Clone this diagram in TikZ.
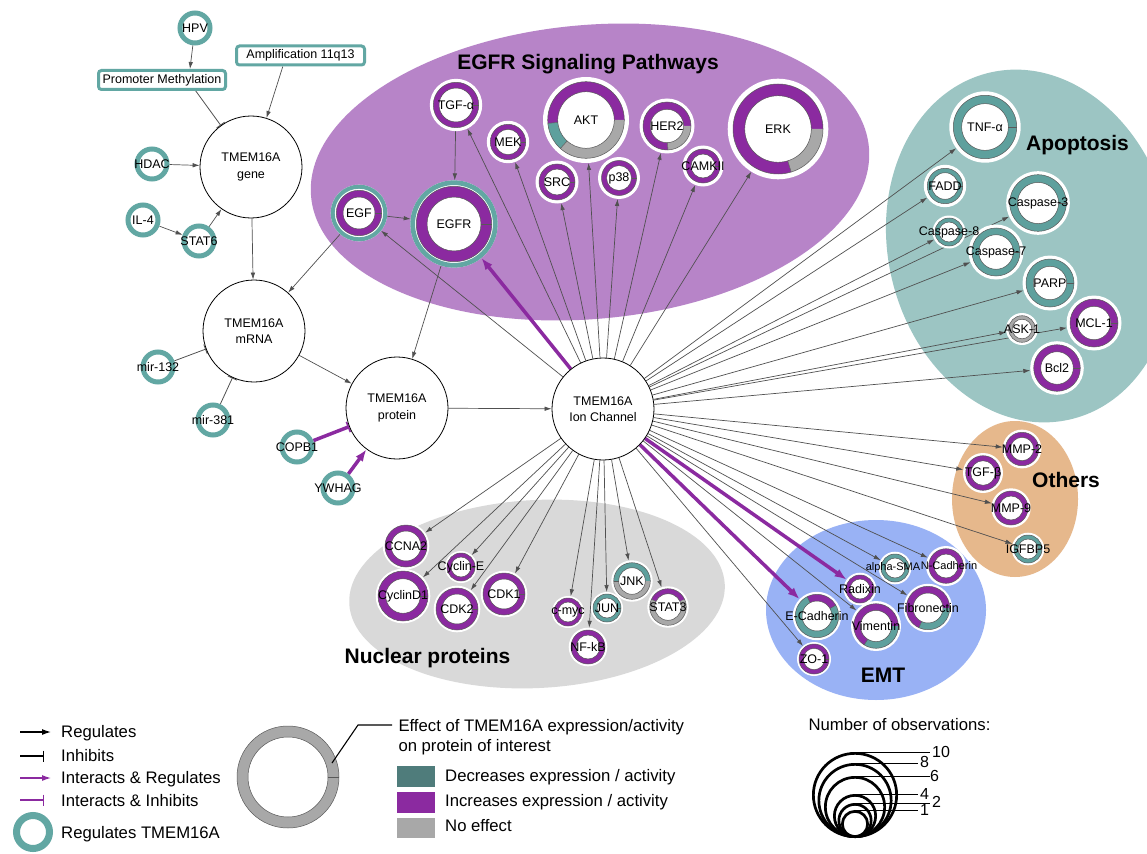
\documentclass[tikz,border=0pt]{standalone}
\usepackage{fontspec}
\setmainfont{Liberation Sans}
\usetikzlibrary{arrows.meta,calc}
\definecolor{rpurple}{HTML}{8B2AA0}
\definecolor{rteal}{HTML}{5EA09D}
\definecolor{rgray}{HTML}{A8A8A8}
\definecolor{regteal}{HTML}{62A7A3}
\definecolor{legteal}{HTML}{4F7C7B}
\definecolor{egfrbg}{HTML}{B784C8}
\definecolor{apobg}{HTML}{9CC5C3}
\definecolor{othbg}{HTML}{E6B88C}
\definecolor{emtbg}{HTML}{99B2F5}
\definecolor{nucbg}{HTML}{D9D9D9}
\definecolor{edgec}{HTML}{505050}
\pgfdeclarelayer{bg}
\pgfdeclarelayer{edges}
\pgfdeclarelayer{labels}
\pgfsetlayers{bg,edges,main,labels}
\tikzset{
  ringline/.style={draw=black!65, line width=0.5},
  plabel/.style={font=\fontsize{12.5}{14}\selectfont, inner sep=0},
  reg/.style={draw=edgec, line width=0.7, -{Latex[length=7pt,width=4.5pt]}},
  inh/.style={draw=edgec, line width=0.8, -{Bar[width=10pt]}},
  preg/.style={draw=rpurple, line width=3.5, -{Latex[length=12pt,width=9pt]}},
  pinh/.style={draw=rpurple, line width=3.5, -{Bar[width=11pt,line width=1.6pt]}},
  tcirc/.style={circle, draw=black, line width=0.8, fill=white, minimum size=102, inner sep=0, align=center, font=\fontsize{12.5}{16.5}\selectfont},
  regnode/.style={circle, draw=regteal, line width=5, fill=white, minimum size=30, inner sep=0},
  regbox/.style={draw=regteal, line width=3, rounded corners=3, fill=white, inner sep=0, minimum height=19, font=\fontsize{12.5}{14}\selectfont},
  grouptitle/.style={font=\fontsize{21}{24}\selectfont\bfseries, anchor=base, inner sep=0},
  legtext/.style={font=\fontsize{16.7}{19}\selectfont, anchor=base west, inner sep=0},
  numtext/.style={font=\fontsize{16}{18}\selectfont, anchor=base west, inner sep=0},
}
% protein node: [halo] name x y R w label segments
\newcommand{\prot}[8][3.5]{%
  \node[circle, fill=white, inner sep=0, outer sep=0, minimum size={2*(#5+#1)}] (#2) at (#3,#4) {};
  \pgfmathsetmacro\myri{#5-#6}%
  \begin{scope}[shift={(#3,#4)}, yscale=-1]
    \foreach \segc/\sega/\segb in {#8} {
      \fill[\segc] (\sega:#5) arc[start angle=\sega, end angle=\segb, radius=#5] -- (\segb:\myri) arc[start angle=\segb, end angle=\sega, radius=\myri] -- cycle;
      \draw[ringline] (\sega:\myri) -- (\sega:#5);
    }
    \draw[ringline] (0,0) circle[radius=#5];
    \draw[ringline] (0,0) circle[radius=\myri];
  \end{scope}
  \begin{pgfonlayer}{labels}
    \node[plabel] (#2-l) at (#3,#4) {#7};
  \end{pgfonlayer}
}
\newcommand{\tealring}[4]{\draw[regteal, line width=#4] (#1,#2) circle[radius=#3];}
\newcommand{\rnode}[4]{%
  \node[regnode] (#1) at (#2,#3) {};
  \begin{pgfonlayer}{labels}
    \node[plabel] (#1-l) at (#2,#3) {#4};
  \end{pgfonlayer}
}
\begin{document}
\begin{tikzpicture}[x=1pt,y=-1pt]
\useasboundingbox (0,0) rectangle (1147,853);
\begin{pgfonlayer}{bg}
  \fill[white] (0,0) rectangle (1147,853);
  \fill[egfrbg, shift={(590,172)}, rotate=5] (0,0) ellipse[x radius=280, y radius=147];
  \fill[apobg, shift={(1030,246)}, rotate=13] (0,0) ellipse[x radius=142, y radius=178];
  \fill[othbg, shift={(1015,499)}] (0,0) ellipse[x radius=63, y radius=78];
  \fill[emtbg, shift={(876,610)}] (0,0) ellipse[x radius=110, y radius=90];
  \fill[nucbg, shift={(537,594)}, rotate=3] (0,0) ellipse[x radius=188, y radius=94];
\end{pgfonlayer}

% group titles
\node[grouptitle] (t-egfr) at (588,69.5) {EGFR Signaling Pathways};
\node[grouptitle] (t-apo) at (1077.5,151) {Apoptosis};
\node[grouptitle] (t-oth) at (1066,487.7) {Others};
\node[grouptitle] (t-emt) at (883,682.7) {EMT};
\node[grouptitle] (t-nuc) at (427.5,663.3) {Nuclear proteins};

% left side
\rnode{hpv}{195}{28}{HPV}
\node[regbox, minimum width=127] (prom) at (162,80) {Promoter Methylation};
\node[regbox, minimum width=128] (amp) at (300.5,55.5) {Amplification 11q13};
\node[tcirc] (gene) at (251,167) {TMEM16A\\gene};
\rnode{hdac}{152}{164}{HDAC}
\rnode{il4}{143}{220}{IL-4}
\rnode{stat6}{199}{241}{STAT6}
\node[tcirc] (mrna) at (254,331) {TMEM16A\\mRNA};
\rnode{mir132}{158}{367}{mir-132}
\rnode{mir381}{213}{420}{mir-381}
\node[tcirc] (prot) at (397,408) {TMEM16A\\protein};
\rnode{copb1}{297}{447}{COPB1}
\rnode{ywhag}{338}{488}{YWHAG}
\node[tcirc] (ion) at (603,409) {TMEM16A\\Ion Channel};

% EGFR pathway
\prot{tgfa}{456}{105}{22.7}{5.7}{TGF-α}{rpurple/0/360}
\prot{mek}{508}{142}{17.7}{5}{MEK}{rpurple/0/360}
\prot[4.7]{akt}{586}{120}{38.3}{10}{AKT}{rpurple/0/185,rteal/185/228,rgray/228/360}
\prot{her2}{667}{126}{24}{7.3}{HER2}{rpurple/0/272,rgray/272/360}
\prot{src}{557}{182}{18}{5}{SRC}{rpurple/0/360}
\prot{p38}{619}{178}{17.5}{5}{p38}{rpurple/0/360}
\prot{camk}{703}{166}{17}{5}{CAMKII}{rpurple/0/360}
\prot[5.3]{erk}{778}{129}{45}{11.7}{ERK}{rpurple/0/287,rgray/287/360}
\prot[5.6]{egf}{359}{213}{22.7}{6.7}{EGF}{rpurple/0/360}
\tealring{359}{213}{26.3}{4}
\prot[5.9]{egfr}{454}{224}{37.7}{10.7}{EGFR}{rpurple/0/360}
\tealring{454}{224}{41.3}{4.7}

% Apoptosis
\prot[4]{tnfa}{985}{127}{31.7}{8.3}{TNF-α}{rteal/0/360}
\prot{fadd}{945}{186}{17.7}{4.4}{FADD}{rteal/0/360}
\prot[2.5]{casp8}{949}{232}{14}{4}{Caspase-8}{rteal/0/360}
\prot{casp3}{1038}{203}{28.3}{7.7}{Caspase-3}{rteal/0/360}
\prot{casp7}{996}{252}{24}{6.7}{Caspase-7}{rteal/0/360}
\prot{parp}{1050}{283}{24}{7.3}{PARP}{rteal/0/360}
\prot[2.7]{ask1}{1022}{329}{13.3}{3.5}{ASK-1}{rgray/0/360}
\prot{mcl1}{1094}{323}{24}{7.3}{MCL-1}{rpurple/0/360}
\prot{bcl2}{1057}{368}{23.3}{7}{Bcl2}{rpurple/0/360}

% Others
\prot[2.7]{mmp2}{1022}{449}{16.7}{5}{MMP-2}{rpurple/0/360}
\prot[2.7]{tgfb}{983}{473}{17.3}{5}{TGF-β}{rpurple/0/360}
\prot[2.7]{mmp9}{1011}{508}{17}{5}{MMP-9}{rpurple/0/360}
\prot[2.3]{igfbp5}{1028}{549}{14}{4}{IGFBP5}{rteal/0/360}

% EMT
\prot[2.3]{asma}{895}{568}{14}{4}{}{rteal/0/360}
\prot[2.7]{ncad}{946}{566}{17.3}{5.3}{}{rpurple/0/360}
\begin{pgfonlayer}{labels}
  \node[plabel, font=\fontsize{11}{13}\selectfont] (asma-t) at (893,568) {alpha-SMA};
  \node[plabel, font=\fontsize{11}{13}\selectfont] (ncad-t) at (949,566) {N-Cadherin};
\end{pgfonlayer}
\prot[2.3]{radixin}{860}{589}{14}{4}{Radixin}{rpurple/0/360}
\prot[2.5]{fibro}{928}{608}{21.7}{6.7}{Fibronectin}{rpurple/0/245,rteal/245/360}
\prot[2.5]{ecad}{817}{616}{21.7}{6.7}{E-Cadherin}{rteal/0/30,rpurple/30/117,rteal/117/360}
\prot[2.7]{vim}{876}{626}{22.3}{6.7}{Vimentin}{rpurple/0/238,rteal/238/360}
\prot[2]{zo1}{814}{659}{15}{4.3}{ZO-1}{rpurple/0/360}

% Nuclear proteins
\prot[2.3]{ccna2}{406}{546}{21}{6}{CCNA2}{rpurple/0/360}
\prot[2]{cyce}{461}{567}{14}{4}{Cyclin-E}{rpurple/0/360}
\prot[2.3]{cycd1}{403}{596}{25}{7.7}{CyclinD1}{rpurple/0/360}
\prot[2.3]{cdk2}{457}{609}{21}{6}{CDK2}{rpurple/0/360}
\prot[2.3]{cdk1}{504}{594}{21}{6}{CDK1}{rpurple/0/360}
\prot[2]{cmyc}{568}{612}{14}{4}{c-myc}{rpurple/0/360}
\prot[2]{jun}{607}{608}{14}{4}{JUN}{rteal/0/360}
\prot[2.4]{jnk}{632}{581}{18.3}{5}{JNK}{rteal/0/180,rgray/180/360}
\prot[2.4]{stat3}{668}{607}{18.3}{5}{STAT3}{rpurple/25/155,rgray/155/385}
\prot[2.3]{nfkb}{588}{647}{17}{5}{NF-kB}{rpurple/0/360}

% edges
\begin{pgfonlayer}{edges}
  \draw[reg] (hpv) -- ($(prom.north)!0.43!(prom.north east)$);
  \draw[inh] ($(prom.south)!0.52!(prom.south east)$) -- (gene);
  \draw[reg] ($(amp.south)!0.27!(amp.south west)$) -- (gene);
  \draw[reg] (hdac) -- (gene);
  \draw[reg] (il4) -- (stat6);
  \draw[reg] (stat6) -- (gene);
  \draw[reg] (gene) -- (mrna);
  \draw[inh] (mir132) -- (mrna);
  \draw[inh] (mir381) -- (mrna);
  \draw[reg] (mrna) -- (prot);
  \draw[reg] (egf) -- (mrna);
  \draw[reg] (egfr) -- (prot);
  \draw[reg] (tgfa) -- (egfr);
  \draw[reg] (egf) -- (egfr);
  \draw[pinh] (copb1) -- (prot);
  \draw[preg] (ywhag) -- (prot);
  \draw[reg] (prot) -- (ion);
  \foreach \t in {egf,tgfa,mek,src,akt,p38,her2,camk,erk,tnfa,fadd,casp8,casp3,casp7,parp,ask1,mcl1,bcl2,mmp2,tgfb,mmp9,igfbp5,asma,ncad,fibro,vim,zo1,ccna2,cycd1,cyce,cdk2,cdk1,cmyc,nfkb,jun,jnk,stat3}
    \draw[reg] (ion) -- (\t);
  \draw[preg] (ion) -- (egfr);
  \draw[preg] (ion) -- (radixin);
  \draw[preg] (ion) -- (ecad);
\end{pgfonlayer}

% legend: edge types
\coordinate (lr1) at (20,732); \coordinate (lr2) at (51,732);
\coordinate (li1) at (20,756); \coordinate (li2) at (44,756);
\coordinate (lpr1) at (20,778); \coordinate (lpr2) at (51,778);
\coordinate (lpi1) at (20,800); \coordinate (lpi2) at (44,800);
\draw[black, line width=1.2, -{Latex[length=9pt,width=6pt]}] (lr1) -- (lr2);
\draw[black, line width=1.2, -{Bar[width=11pt]}] (li1) -- (li2);
\draw[rpurple, line width=1.2, -{Latex[length=9pt,width=6pt]}] (lpr1) -- (lpr2);
\draw[rpurple, line width=1.2, -{Bar[width=11pt]}] (lpi1) -- (lpi2);
\node[legtext] (lt1) at (61,737.7) {Regulates};
\node[legtext] (lt2) at (61,761.7) {Inhibits};
\node[legtext] (lt3) at (61,783.3) {Interacts \& Regulates};
\node[legtext] (lt4) at (61,806.7) {Interacts \& Inhibits};
\node[regnode, minimum size=33, line width=7] (legreg) at (33,832) {};
\node[legtext] (lt5) at (61,838.3) {Regulates TMEM16A};

% legend: effect ring
\prot[0]{legring}{288}{777}{51}{11}{}{rgray/0/360}
\coordinate (lp0) at (332,763); \coordinate (lpa) at (358,725); \coordinate (lpb) at (392,725);
\draw[black, line width=1.1] (lp0) -- (lpa) -- (lpb);
\node[legtext] (le1) at (398.3,731) {Effect of TMEM16A expression/activity};
\node[legtext] (le2) at (398.3,751.7) {on protein of interest};
\fill[legteal] (396.7,766) rectangle (435,787.3);
\fill[rpurple] (396.7,791.7) rectangle (435,813.3);
\fill[rgray] (396.7,818.3) rectangle (435,838.3);
\node[legtext] (le3) at (445,781) {Decreases expression / activity};
\node[legtext] (le4) at (445,806) {Increases expression / activity};
\node[legtext] (le5) at (445,831) {No effect};

% legend: number of observations
\node[legtext] (lobs) at (808.3,730.7) {Number of observations:};
\foreach \tp/\ex in {752/930, 763/918, 776/930, 794/918, 803/930, 810/918} {
  \pgfmathsetmacro\ro{(838-\tp)/2}
  \draw[black, line width=2.7] (855,838-\ro) circle[radius=\ro-1.35];
  \draw[black, line width=1.2] (855,\tp+0.6) -- (\ex,\tp+0.6);
}
\node[numtext] (n10) at (932,757.3) {10};
\node[numtext] (n8) at (920,767.7) {8};
\node[numtext] (n6) at (930,781) {6};
\node[numtext] (n4) at (920,799) {4};
\node[numtext] (n2) at (932,807.7) {2};
\node[numtext] (n1) at (920,815) {1};
\end{tikzpicture}
\end{document}
